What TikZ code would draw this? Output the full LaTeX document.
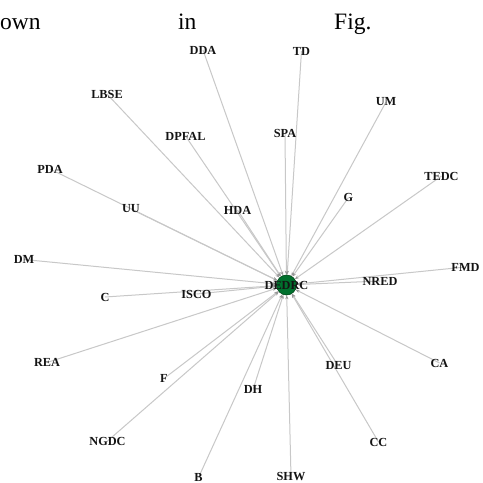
\documentclass[tikz,border=0pt]{standalone}
\usepackage{fontspec}
\setmainfont{Liberation Serif}
\usetikzlibrary{arrows.meta}
\pgfdeclarelayer{background}
\pgfsetlayers{background,main}
\definecolor{edgegray}{RGB}{200,200,200}
\definecolor{tipgray}{RGB}{150,150,150}
\definecolor{hubgreen}{RGB}{0,112,45}
\definecolor{hubdark}{RGB}{0,70,25}
\tikzset{
  lbl/.style={font=\fontsize{12.3}{12.3}\selectfont\bfseries, text=black!92, inner sep=0pt},
  edge/.style={draw=edgegray, line width=1pt, -{Stealth[length=4pt,width=3.2pt,color=tipgray]}},
  hubnode/.style={circle, fill=hubgreen, draw=hubdark, line width=0.6pt, minimum size=20pt, inner sep=0pt},
  toptext/.style={font=\fontsize{23.5}{24}\selectfont, inner sep=0pt, anchor=base west}
}
\begin{document}
\begin{tikzpicture}[x=1pt,y=-1pt]
\useasboundingbox (0,0) rectangle (483,483);
% top text fragment
\node[toptext] (t1) at (0,29.5) {own};
\node[toptext] (t2) at (178,29.5) {in};
\node[toptext] (t3) at (334,29.5) {Fig.};
% hub
\node[hubnode] (hub) at (286.5,285) {};
\node[lbl] (hublbl) at (286.5,285) {DEDRC};
% peripheral labels
\node[lbl] (DDA) at (203,50) {DDA};
\node[lbl] (TD) at (301.5,51) {TD};
\node[lbl] (LBSE) at (107,94) {LBSE};
\node[lbl] (UM) at (386,102) {UM};
\node[lbl] (SPA) at (285,133) {SPA};
\node[lbl] (DPFAL) at (185.5,136) {DPFAL};
\node[lbl] (PDA) at (50,169) {PDA};
\node[lbl] (TEDC) at (441.5,176) {TEDC};
\node[lbl] (G) at (348.5,197.5) {G};
\node[lbl] (UU) at (131,209) {UU};
\node[lbl] (HDA) at (237.5,210) {HDA};
\node[lbl] (DM) at (24,259.5) {DM};
\node[lbl] (FMD) at (465.5,267) {FMD};
\node[lbl] (NRED) at (380,281) {NRED};
\node[lbl] (C) at (105,297) {C};
\node[lbl] (ISCO) at (196.5,294) {ISCO};
\node[lbl] (REA) at (47,362.5) {REA};
\node[lbl] (CA) at (439.5,363) {CA};
\node[lbl] (DEU) at (338.5,366) {DEU};
\node[lbl] (F) at (164,378.5) {F};
\node[lbl] (DH) at (253,389.5) {DH};
\node[lbl] (NGDC) at (107.5,441) {NGDC};
\node[lbl] (CC) at (378.5,442) {CC};
\node[lbl] (B) at (198.5,477.5) {B};
\node[lbl] (SHW) at (291,477) {SHW};
% edges
\begin{pgfonlayer}{background}
\fill[white] (0,0) rectangle (483,483);
\foreach \n in {DDA,TD,LBSE,UM,SPA,DPFAL,PDA,TEDC,G,UU,HDA,DM,FMD,NRED,C,ISCO,REA,CA,DEU,F,DH,NGDC,CC,B,SHW}{
  \draw[edge] (\n.center) -- (hub);
}
\end{pgfonlayer}
\end{tikzpicture}
\end{document}
